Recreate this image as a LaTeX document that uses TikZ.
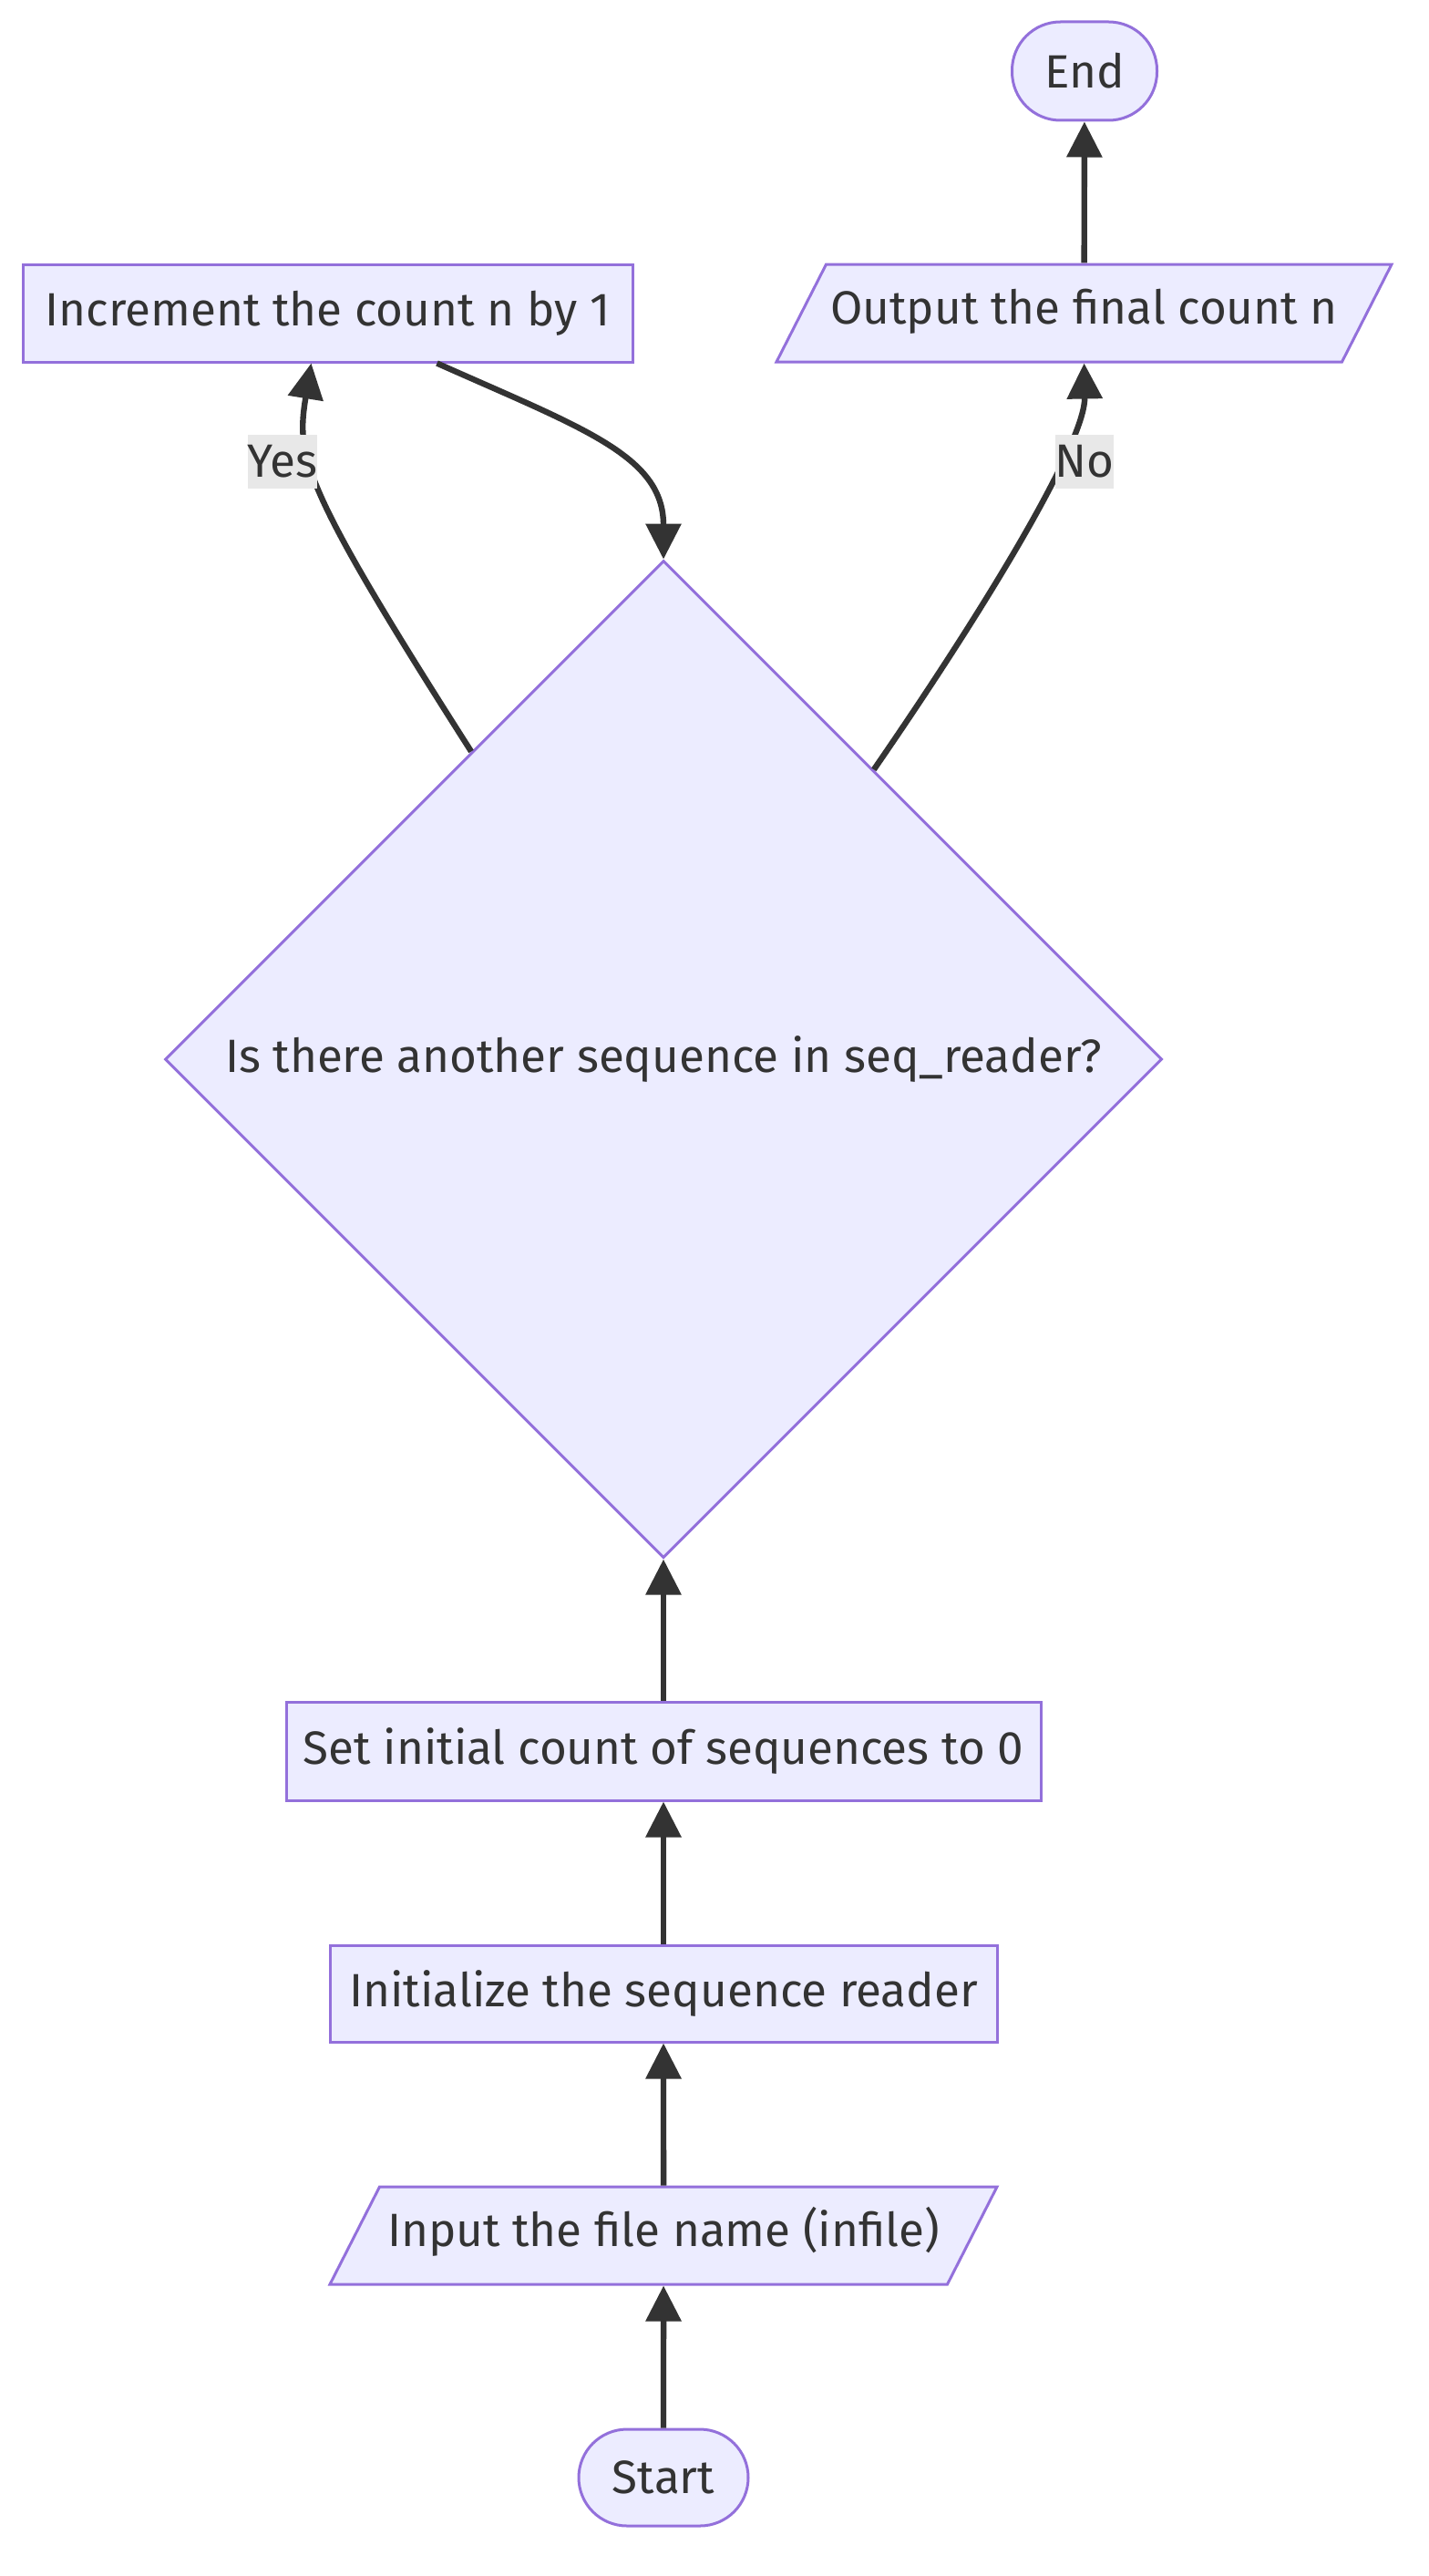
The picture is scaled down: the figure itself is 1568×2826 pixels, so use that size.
\documentclass[tikz,border=0pt]{standalone}
\usepackage{fontspec}
\setmainfont{Fira Sans}
\usetikzlibrary{shapes.geometric,arrows.meta}
\definecolor{nodefill}{HTML}{ECECFF}
\definecolor{nodeline}{HTML}{9370DB}
\definecolor{edgeline}{HTML}{333333}
\definecolor{lblfill}{HTML}{E8E8E8}
\begin{document}
\begin{tikzpicture}[x=0.5pt, y=-0.5pt,
  every node/.style={font=\fontsize{25.6}{30}\selectfont, text=edgeline, inner sep=0pt},
  box/.style={rectangle, draw=nodeline, fill=nodefill, line width=1.5pt},
  term/.style={box, rounded corners=26.5pt},
  io/.style={box, trapezium, trapezium left angle=63, trapezium right angle=117,
    trapezium stretches body=true, text height=19pt, text depth=7pt, inner ysep=13.75pt},
  dec/.style={box, diamond},
  lbl/.style={fill=lblfill, minimum height=29.5pt},
  flow/.style={draw=edgeline, line width=3.2pt, -{Triangle[length=19.5pt,width=19pt]}}]
\useasboundingbox (0,0) rectangle (1568,2826);
\node[term, minimum width=93pt, minimum height=53pt] (start) at (728,2718) {Start};
\node[io, minimum width=366pt] (input) at (728,2452.5) {Input the file name (infile)};
\node[box, minimum width=366pt, minimum height=53pt] (init) at (728,2187) {Initialize the sequence reader};
\node[box, minimum width=414pt, minimum height=54pt] (setcnt) at (728,1921) {Set initial count of sequences to 0};
\node[dec, minimum width=547pt, minimum height=547pt] (check) at (728,1162) {Is there another sequence in seq\_reader?};
\node[box, minimum width=334.5pt, minimum height=53.5pt] (incr) at (359.5,343.5) {Increment the count n by 1};
\node[io, minimum width=337.5pt] (output) at (1189.5,343.5) {Output the final count n};
\node[term, minimum width=79.5pt, minimum height=54pt] (finish) at (1190,78) {End};
\draw[flow](start) -- (input);
\draw[flow](input) -- (init);
\draw[flow](init) -- (setcnt);
\draw[flow](setcnt) -- (check);
\draw[flow](check.122.6) .. controls (329,530) and (325,500) .. ([xshift=-9pt]incr.south);
\draw[flow]([xshift=60pt]incr.south) .. controls (640,470) and (728,500) .. (check.north);
\draw[flow](check.54.4) .. controls (1101,638) and (1191,480) .. (output.south);
\draw[flow](output) -- (finish);
% edge labels
\node[lbl] (yes) at (310,506) {Yes};
\node[lbl] (no) at (1190,506) {No};
\end{tikzpicture}
\end{document}
